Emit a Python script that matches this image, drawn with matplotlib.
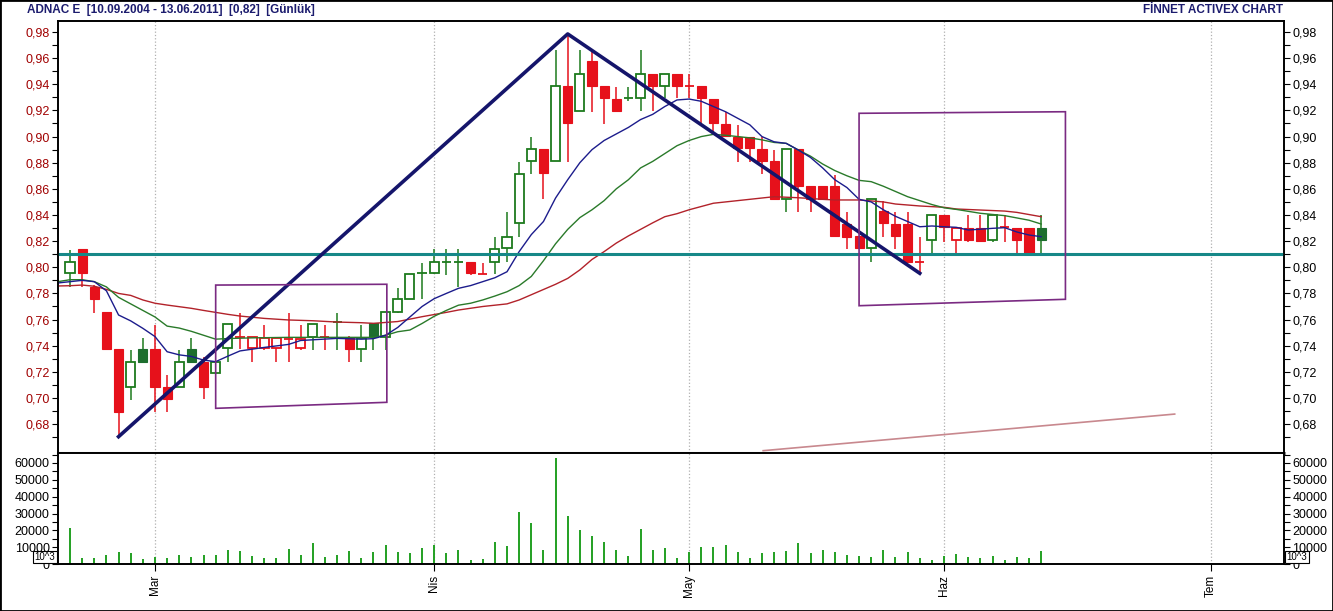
import numpy as np
import matplotlib.pyplot as plt
from matplotlib.patches import Rectangle, Polygon
from matplotlib.ticker import MultipleLocator, FixedLocator, FuncFormatter

plt.rcParams['font.family'] = ['Liberation Sans', 'DejaVu Sans']

# daily bars, index 0 = first bar on the chart, last = 13.06.2011
opens = [0.7954, 0.8140, 0.7852, 0.7661, 0.7377, 0.7086, 0.7375, 0.7375, 0.7086, 0.7086,
         0.7375, 0.7273, 0.7188, 0.7380, 0.7469, 0.7380, 0.7380, 0.7380, 0.7452, 0.7380,
         0.7469, 0.7464, 0.7584, 0.7461, 0.7377, 0.7571, 0.7469, 0.7660, 0.7757, 0.7954,
         0.7954, 0.8038, 0.8038, 0.8038, 0.7950, 0.8043, 0.8145, 0.8336, 0.8816, 0.8905,
         0.8816, 0.9387, 0.9198, 0.9578, 0.9387, 0.9287, 0.9292, 0.9292, 0.9476, 0.9389,
         0.9476, 0.9385, 0.9387, 0.9287, 0.9096, 0.8999, 0.8999, 0.8905, 0.8816, 0.8525,
         0.8905, 0.8622, 0.8622, 0.8622, 0.8331, 0.8239, 0.8145, 0.8430, 0.8331, 0.8331,
         0.8040, 0.8206, 0.8397, 0.8206, 0.8301, 0.8301, 0.8206, 0.8306, 0.8301, 0.8301,
         0.8301]
highs = [0.8132, 0.8140, 0.7865, 0.7661, 0.7377, 0.7367, 0.7456, 0.7558, 0.7176, 0.7367,
         0.7456, 0.7310, 0.7276, 0.7563, 0.7648, 0.7464, 0.7558, 0.7460, 0.7653, 0.7558,
         0.7563, 0.7558, 0.7653, 0.7475, 0.7558, 0.7571, 0.7655, 0.7839, 0.7946, 0.8030,
         0.8137, 0.8137, 0.8137, 0.8040, 0.8030, 0.8229, 0.8425, 0.8803, 0.8999, 0.8905,
         0.9662, 0.9785, 0.9662, 0.9650, 0.9387, 0.9382, 0.9382, 0.9662, 0.9476, 0.9476,
         0.9476, 0.9476, 0.9387, 0.9287, 0.9190, 0.9088, 0.8999, 0.8999, 0.8897, 0.8902,
         0.8905, 0.8622, 0.8622, 0.8706, 0.8425, 0.8239, 0.8520, 0.8510, 0.8425, 0.8420,
         0.8234, 0.8397, 0.8397, 0.8301, 0.8397, 0.8397, 0.8397, 0.8397, 0.8301, 0.8301,
         0.8397]
lows = [0.7847, 0.7847, 0.7652, 0.7367, 0.6704, 0.6985, 0.7278, 0.6890, 0.6890, 0.7086,
        0.7278, 0.6990, 0.7188, 0.7273, 0.7375, 0.7273, 0.7367, 0.7273, 0.7273, 0.7367,
        0.7367, 0.7367, 0.7367, 0.7273, 0.7273, 0.7367, 0.7367, 0.7650, 0.7755, 0.7755,
        0.7946, 0.7941, 0.7846, 0.7941, 0.7950, 0.7946, 0.8038, 0.8234, 0.8711, 0.8520,
        0.8816, 0.8808, 0.9198, 0.9190, 0.9096, 0.9198, 0.9275, 0.9198, 0.9198, 0.9292,
        0.9292, 0.9292, 0.9101, 0.9012, 0.9007, 0.8808, 0.8808, 0.8714, 0.8525, 0.8425,
        0.8425, 0.8425, 0.8520, 0.8239, 0.8137, 0.8145, 0.8038, 0.8234, 0.8137, 0.8043,
        0.7954, 0.8101, 0.8197, 0.8101, 0.8197, 0.8197, 0.8197, 0.8197, 0.8101, 0.8101,
        0.8101]
closes = [0.8038, 0.7954, 0.7760, 0.7377, 0.6893, 0.7273, 0.7278, 0.7086, 0.6995, 0.7273,
          0.7278, 0.7086, 0.7276, 0.7563, 0.7469, 0.7464, 0.7460, 0.7456, 0.7452, 0.7448,
          0.7563, 0.7464, 0.7584, 0.7377, 0.7461, 0.7465, 0.7655, 0.7755, 0.7946, 0.7954,
          0.8038, 0.8038, 0.8038, 0.7954, 0.7950, 0.8137, 0.8234, 0.8711, 0.8902, 0.8719,
          0.9387, 0.9101, 0.9476, 0.9389, 0.9292, 0.9198, 0.9292, 0.9476, 0.9389, 0.9476,
          0.9389, 0.9385, 0.9292, 0.9101, 0.9007, 0.8914, 0.8910, 0.8816, 0.8525, 0.8902,
          0.8622, 0.8525, 0.8520, 0.8239, 0.8235, 0.8145, 0.8520, 0.8336, 0.8239, 0.8043,
          0.8040, 0.8397, 0.8306, 0.8301, 0.8206, 0.8201, 0.8397, 0.8306, 0.8206, 0.8101,
          0.8206]
# volume in 10^3
volume = [21200, 3400, 3400, 5100, 6900, 6300, 2800, 4200, 3400, 5100,
          4000, 5100, 5100, 8100, 7500, 4600, 3400, 3400, 8700, 5100,
          12300, 4000, 5100, 7500, 3400, 6900, 11100, 6900, 6300, 9300,
          11300, 6300, 8300, 2200, 2800, 13100, 10700, 30900, 24400, 8300,
          62800, 28300, 20200, 16400, 13100, 8300, 4600, 20800, 8300, 9300,
          3400, 6900, 9900, 9900, 11100, 6900, 3400, 6300, 6900, 7500,
          12300, 6300, 8100, 6900, 5100, 4600, 4000, 8300, 4000, 6900,
          3400, 2200, 4600, 5800, 4000, 3400, 4600, 2200, 4000, 3400,
          7500]

# moving averages
ma1_idx = [-1, 0, 1, 2, 3, 4, 5, 6, 7, 8, 9, 10, 11, 12, 13, 14, 16, 18, 19, 22, 24, 25, 26, 27,
           28, 29, 30, 31, 32, 33, 34, 35, 36, 37, 38, 39, 40, 41, 42, 43, 44, 45, 46, 47, 48, 49,
           50, 51, 52, 53, 54, 55, 56, 57, 58, 59, 60, 61, 62, 63, 64, 65, 66, 67, 68, 69, 70, 71,
           72, 73, 74, 76, 77, 78, 79, 80]
ma1_val = [0.788, 0.789, 0.790, 0.789, 0.782, 0.7635, 0.759, 0.7533, 0.747, 0.7354, 0.733, 0.7318,
           0.729, 0.7278, 0.732, 0.736, 0.7387, 0.741, 0.744, 0.7456, 0.745, 0.7454, 0.748, 0.754,
           0.762, 0.770, 0.776, 0.780, 0.7839, 0.786, 0.789, 0.792, 0.7966, 0.812, 0.825, 0.835,
           0.853, 0.867, 0.880, 0.890, 0.897, 0.902, 0.907, 0.913, 0.917, 0.923, 0.928, 0.9287,
           0.927, 0.923, 0.919, 0.914, 0.909, 0.900, 0.896, 0.8948, 0.8897, 0.884, 0.876, 0.867,
           0.861, 0.852, 0.850, 0.844, 0.839, 0.835, 0.831, 0.8316, 0.831, 0.8306, 0.8285, 0.8298,
           0.8303, 0.827, 0.8247, 0.8234]
ma2_idx = [-1, 0, 1, 2, 3, 4, 5, 6, 7, 8, 9, 10, 11, 12, 13, 15, 18, 21, 23, 25, 26, 27, 28, 29,
           30, 31, 32, 33, 34, 35, 36, 37, 38, 39, 40, 41, 42, 43, 44, 45, 46, 47, 48, 49, 50, 51,
           52, 53, 54, 55, 56, 57, 58, 59, 60, 61, 62, 63, 64, 65, 66, 67, 68, 69, 70, 71, 72, 73,
           75, 77, 79, 80]
ma2_val = [0.789, 0.7905, 0.7905, 0.789, 0.785, 0.777, 0.772, 0.767, 0.762, 0.755, 0.7535, 0.751,
           0.748, 0.745, 0.7455, 0.746, 0.7464, 0.7464, 0.7464, 0.7464, 0.748, 0.7507, 0.752,
           0.757, 0.7625, 0.767, 0.771, 0.7725, 0.775, 0.778, 0.7813, 0.786, 0.793, 0.805, 0.818,
           0.829, 0.838, 0.844, 0.851, 0.860, 0.867, 0.876, 0.881, 0.887, 0.893, 0.897, 0.900,
           0.9017, 0.901, 0.900, 0.899, 0.8975, 0.8955, 0.8948, 0.8897, 0.885, 0.879, 0.874,
           0.870, 0.8665, 0.8655, 0.862, 0.858, 0.854, 0.851, 0.848, 0.8455, 0.8443, 0.8413,
           0.8395, 0.836, 0.8331]
ma3_idx = [-1, 0, 1, 2, 3, 4, 5, 6, 7, 8, 10, 11, 13, 14, 16, 18, 20, 22, 24, 25, 27, 29, 31, 32,
           34, 36, 37, 38, 39, 40, 41, 42, 43, 44, 45, 46, 47, 48, 49, 50, 51, 52, 53, 54, 55, 56,
           57, 58, 60, 62, 63, 65, 67, 68, 70, 72, 73, 75, 77, 78, 80]
ma3_val = [0.7857, 0.7859, 0.7864, 0.7855, 0.7831, 0.780, 0.7785, 0.775, 0.7725, 0.7711, 0.7686,
           0.767, 0.764, 0.7627, 0.7609, 0.7597, 0.7591, 0.7581, 0.7576, 0.7571, 0.7585, 0.7622,
           0.7655, 0.7673, 0.770, 0.772, 0.775, 0.779, 0.783, 0.787, 0.7915, 0.798, 0.806, 0.812,
           0.8185, 0.824, 0.829, 0.834, 0.8387, 0.841, 0.844, 0.8465, 0.849, 0.850, 0.851, 0.852,
           0.853, 0.854, 0.8532, 0.852, 0.8515, 0.8515, 0.850, 0.8484, 0.8469, 0.8459, 0.8446,
           0.8438, 0.843, 0.842, 0.8387]

# drawn objects
support_level = 0.81
zigzag_idx = [4, 41, 70]
box1 = [(12.0, 0.7864), (26.1, 0.7870), (26.1, 0.6967), (12.0, 0.6921)]
box2 = [(65.0, 0.9178), (82.0, 0.9190), (82.0, 0.7755), (65.0, 0.7706)]
trend_x = [57.1, 91.0]
trend_y = [0.6597, 0.6877]

price_ticks = [0.68, 0.70, 0.72, 0.74, 0.76, 0.78, 0.80, 0.82, 0.84, 0.86, 0.88, 0.90, 0.92,
               0.94, 0.96, 0.98]
month_pos = [7, 30, 51, 72, 94]
month_names = ['Mar', 'Nis', 'May', 'Haz', 'Tem']

RED = '#e6111b'
GREEN = '#1c7a1c'
GREEN_F = '#1d6e2e'

fig = plt.figure(figsize=(13.33, 6.11), dpi=100)
ax = fig.add_axes([0.0435, 0.2594, 0.9197, 0.7062])
axv = fig.add_axes([0.0435, 0.0769, 0.9197, 0.1809], sharex=ax)

w = 0.75
for i in range(len(closes)):
    o, h, l, c = opens[i], highs[i], lows[i], closes[i]
    up_day = i == 0 or c >= closes[i - 1]
    col = GREEN if up_day else RED
    ax.vlines(i, l, h, color=col, lw=1.1, zorder=2)
    if c < o:
        fc = GREEN_F if up_day else RED
        ax.add_patch(Rectangle((i - w / 2, c), w, o - c, facecolor=fc, edgecolor=fc,
                               lw=0.8, zorder=3))
    elif c > o:
        ax.add_patch(Rectangle((i - w / 2, o), w, c - o, facecolor='white', edgecolor=col,
                               lw=1.3, zorder=3))
    else:
        ax.hlines(c, i - w / 2, i + w / 2, color=col, lw=1.3, zorder=3)

ax.plot(ma3_idx, ma3_val, color='#b2222a', lw=1.0, zorder=4)
ax.plot(ma2_idx, ma2_val, color='#2a7a2a', lw=1.0, zorder=4)
ax.plot(ma1_idx, ma1_val, color='#1c1c8c', lw=1.0, zorder=4)

ax.axhline(support_level, color='#168888', lw=2.2, zorder=5)
zz_y = [lows[zigzag_idx[0]], highs[zigzag_idx[1]], lows[zigzag_idx[2]]]
ax.plot(zigzag_idx, zz_y, color='#15156b', lw=2.6, zorder=6)
for b in (box1, box2):
    ax.add_patch(Polygon(b, closed=True, fill=False, edgecolor='#7a2a82', lw=1.2, zorder=6))
ax.plot(trend_x, trend_y, color='#c8888e', lw=1.2, zorder=6)

ax.set_xlim(-0.99, 100.0)
ax.set_ylim(0.6583, 0.9884)

fmt = FuncFormatter(lambda v, p: ('%.2f' % v).replace('.', ','))
minor_ticks = [t - 0.01 for t in price_ticks] + [price_ticks[-1]]
axr = ax.twinx()
axr.set_ylim(ax.get_ylim())
for a, col in ((ax, '#a00000'), (axr, 'black')):
    a.yaxis.set_major_locator(FixedLocator(price_ticks))
    a.yaxis.set_minor_locator(FixedLocator(minor_ticks))
    a.yaxis.set_major_formatter(fmt)
    a.tick_params(axis='y', which='both', direction='out', length=4, width=0.8,
                  labelsize=9, labelcolor=col, pad=2)
ax.tick_params(axis='x', bottom=False, labelbottom=False)

axv.vlines(range(len(volume)), 0, volume, color='#22a022', lw=1.4)
axv.set_ylim(0, 65650)
axvr = axv.twinx()
axvr.set_ylim(axv.get_ylim())
for a in (axv, axvr):
    a.yaxis.set_major_locator(MultipleLocator(10000))
    a.yaxis.set_minor_locator(MultipleLocator(5000))
    a.tick_params(axis='y', which='both', direction='out', length=4, width=0.8,
                  labelsize=9, labelcolor='black', pad=2)

axv.set_xticks(month_pos)
axv.set_xticklabels(month_names, rotation=90, fontsize=8.5)
axv.tick_params(axis='x', direction='out', length=5, width=0.8, pad=3)

for a in (ax, axv):
    a.grid(axis='x', ls=':', color='#b0b0b0', lw=0.9)
    a.set_axisbelow(True)

for a in (ax, axr, axv, axvr):
    for s in a.spines.values():
        s.set_linewidth(1.2)
ax.spines['bottom'].set_color('#8a8a8a')
ax.spines['bottom'].set_linewidth(2.2)
axr.spines['bottom'].set_visible(False)

for xf in (45 / 1333, 1297 / 1333):
    fig.text(xf, 1 - 557 / 611, '10^3', fontsize=7, ha='center', va='center', zorder=10,
             bbox=dict(boxstyle='square,pad=0.15', fc='white', ec='black', lw=0.8))

fig.text(27 / 1333, 1 - 10 / 611, 'ADNAC E  [10.09.2004 - 13.06.2011]  [0,82]  [Günlük]',
         fontsize=8.5, fontweight='bold', color='#1c1c6e', va='center', ha='left')
fig.text(1283 / 1333, 1 - 10 / 611, 'FİNNET ACTIVEX CHART',
         fontsize=8.5, fontweight='bold', color='#1c1c6e', va='center', ha='right')

fig.patches.append(Rectangle((0, 0), 1, 1, transform=fig.transFigure, fill=False,
                             edgecolor='black', lw=2))

fig.savefig('out.png', dpi=100)
